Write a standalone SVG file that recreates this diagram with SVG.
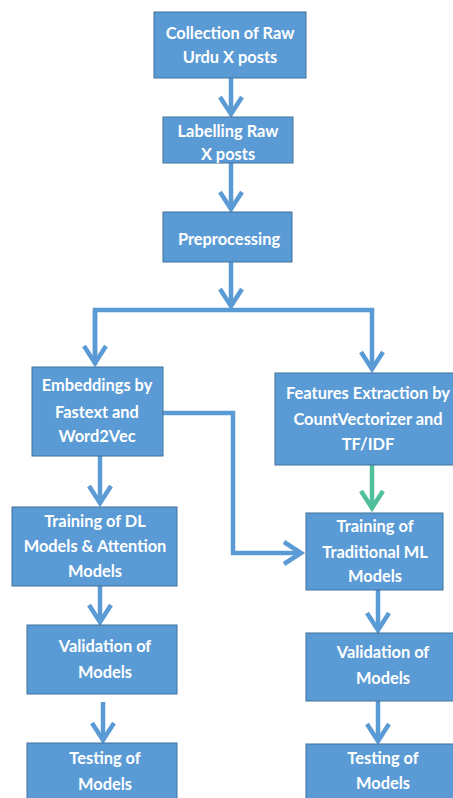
<svg xmlns="http://www.w3.org/2000/svg" width="453" height="798" viewBox="0 0 453 798">
<style>
.box{fill:#5b9bd5;stroke:#41719c;stroke-width:1}
.t{font-family:Lato,"Liberation Sans",sans-serif;font-weight:bold;font-size:16.4px;fill:#ffffff;text-anchor:middle}
.c{fill:none;stroke:#5b9bd5;stroke-width:4.5;stroke-linejoin:miter}
.g{fill:none;stroke:#4fbf9c;stroke-width:4.5}
</style>
<defs>
<marker id="ah" markerUnits="userSpaceOnUse" markerWidth="30" markerHeight="30" viewBox="-20 -15 30 30" refX="0" refY="0" orient="auto" overflow="visible">
<path d="M-17,-11 L0,0 L-17,11" fill="none" stroke="#5b9bd5" stroke-width="4.5"/>
</marker>
<marker id="ahg" markerUnits="userSpaceOnUse" markerWidth="30" markerHeight="30" viewBox="-20 -15 30 30" refX="0" refY="0" orient="auto" overflow="visible">
<path d="M-17,-11 L0,0 L-17,11" fill="none" stroke="#4fbf9c" stroke-width="4.5"/>
</marker>
</defs>
<rect width="453" height="798" fill="#ffffff"/>
<g id="connectors">
<path class="c" d="M231,78 V114" marker-end="url(#ah)"/>
<path class="c" d="M231,163 V209" marker-end="url(#ah)"/>
<path class="c" d="M231,262 V306" marker-end="url(#ah)"/>
<path class="c" d="M95,365 V310 H372 V369" marker-end="url(#ah)"/>
<path class="c" d="M95,310 V363" marker-end="url(#ah)"/>
<path class="g" d="M372,465 V508" marker-end="url(#ahg)"/>
<path class="c" d="M100,456 V503" marker-end="url(#ah)"/>
<path class="c" d="M163,413 H233 V553 H301" marker-end="url(#ah)"/>
<path class="c" d="M100,586 V622" marker-end="url(#ah)"/>
<path class="c" d="M103,702 V740" marker-end="url(#ah)"/>
<path class="c" d="M378,590 V630" marker-end="url(#ah)"/>
<path class="c" d="M378,701 V741" marker-end="url(#ah)"/>
</g>
<g id="n1"><rect class="box" x="154" y="12" width="152" height="66"/><text class="t" x="230" y="39">Collection of Raw</text><text class="t" x="230" y="63">Urdu X posts</text></g>
<g id="n2"><rect class="box" x="163" y="117" width="130" height="46"/><text class="t" x="228" y="137">Labelling Raw</text><text class="t" x="228" y="160">X posts</text></g>
<g id="n3"><rect class="box" x="163" y="212" width="129" height="50"/><text class="t" x="229" y="245">Preprocessing</text></g>
<g id="n4"><rect class="box" x="32" y="367" width="131" height="89"/><text class="t" x="97" y="391">Embeddings by</text><text class="t" x="97" y="418">Fastext and</text><text class="t" x="97" y="442">Word2Vec</text></g>
<g id="n5"><rect class="box" x="275" y="373" width="180" height="92"/><text class="t" x="368" y="399">Features Extraction by</text><text class="t" x="368" y="425">CountVectorizer and</text><text class="t" x="368" y="450">TF/IDF</text></g>
<g id="n6"><rect class="box" x="12" y="507" width="165" height="79"/><text class="t" x="95" y="527">Training of DL</text><text class="t" x="95" y="552">Models &amp; Attention</text><text class="t" x="95" y="577">Models</text></g>
<g id="n7"><rect class="box" x="306" y="513" width="137" height="77"/><text class="t" x="375" y="532">Training of</text><text class="t" x="375" y="558">Traditional ML</text><text class="t" x="375" y="582">Models</text></g>
<g id="n8"><rect class="box" x="27" y="625" width="150" height="69"/><text class="t" x="105" y="652">Validation of</text><text class="t" x="105" y="678">Models</text></g>
<g id="n9"><rect class="box" x="306" y="633" width="150" height="68"/><text class="t" x="383" y="658">Validation of</text><text class="t" x="383" y="684">Models</text></g>
<g id="n10"><rect class="box" x="27" y="743" width="150" height="60"/><text class="t" x="105" y="764">Testing of</text><text class="t" x="105" y="790">Models</text></g>
<g id="n11"><rect class="box" x="306" y="744" width="150" height="60"/><text class="t" x="383" y="764">Testing of</text><text class="t" x="383" y="789">Models</text></g>
</svg>
